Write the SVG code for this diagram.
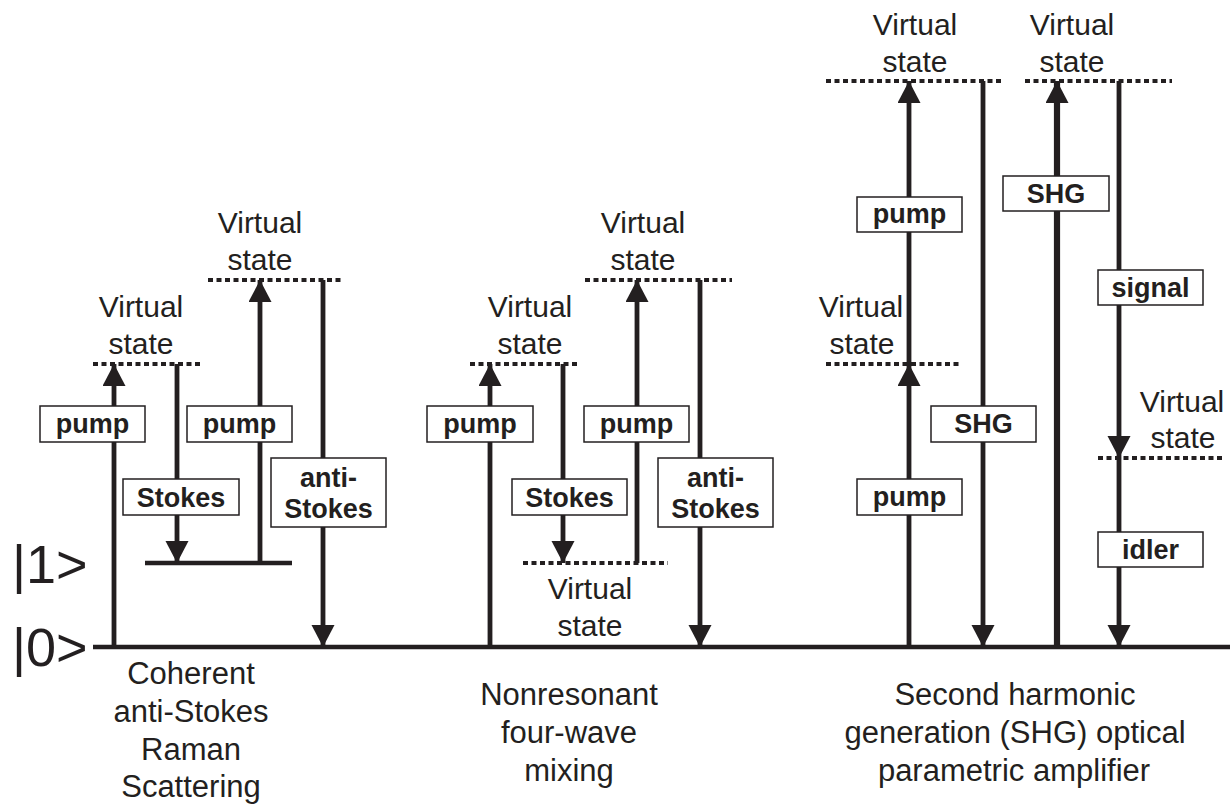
<svg xmlns="http://www.w3.org/2000/svg" width="1230" height="804" viewBox="0 0 1230 804">
<style>
.txt{font-family:"Liberation Sans",Arial,sans-serif;font-size:30px;fill:#231f20;text-anchor:middle}
.cap{font-family:"Liberation Sans",Arial,sans-serif;font-size:31px;fill:#231f20;text-anchor:middle}
.big{font-family:"Liberation Sans",Arial,sans-serif;font-size:54px;fill:#231f20}
.lbl{font-family:"Liberation Sans",Arial,sans-serif;font-size:27px;font-weight:bold;fill:#231f20;text-anchor:middle}
.box{fill:#ffffff;stroke:#231f20;stroke-width:1.5}
.lvl{stroke:#231f20;stroke-width:4.5;fill:none}
.vs{stroke:#231f20;stroke-width:4;stroke-dasharray:5 3.5;fill:none}
.arr{stroke:#231f20;stroke-width:4.8;fill:none;marker-end:url(#ah)}
.arrT{stroke:#231f20;stroke-width:6.2;fill:none;marker-end:url(#ah)}
</style>
<defs>
<marker id="ah" markerUnits="userSpaceOnUse" markerWidth="24" markerHeight="24" refX="22" refY="11.5" orient="auto">
<path d="M0,0 L22,11.5 L0,23 Z" fill="#231f20"/>
</marker>
</defs>
<rect width="1230" height="804" fill="#ffffff"/>

<g id="levels">
<text class="big" x="12" y="583">|1&gt;</text>
<text class="big" x="12" y="666">|0&gt;</text>
<line class="lvl" x1="93" y1="647" x2="1230" y2="647"/>
<line class="lvl" x1="145" y1="563" x2="292" y2="563"/>
</g>

<g id="virtual-states">
<g id="vs-cars-1"><line class="vs" x1="93" y1="364" x2="203" y2="364"/><text class="txt" x="141" y="317">Virtual</text><text class="txt" x="141" y="354">state</text></g>
<g id="vs-cars-2"><line class="vs" x1="208" y1="280" x2="343" y2="280"/><text class="txt" x="260" y="233">Virtual</text><text class="txt" x="260" y="270">state</text></g>
<g id="vs-nr-1"><line class="vs" x1="470" y1="364" x2="580" y2="364"/><text class="txt" x="530" y="317">Virtual</text><text class="txt" x="530" y="354">state</text></g>
<g id="vs-nr-2"><line class="vs" x1="585" y1="280" x2="732" y2="280"/><text class="txt" x="643" y="233">Virtual</text><text class="txt" x="643" y="270">state</text></g>
<g id="vs-nr-3"><line class="vs" x1="523" y1="563" x2="668" y2="563"/><text class="txt" x="590" y="599">Virtual</text><text class="txt" x="590" y="636">state</text></g>
<g id="vs-shg-1"><line class="vs" x1="826" y1="81" x2="1003" y2="81"/><text class="txt" x="915" y="35">Virtual</text><text class="txt" x="915" y="72">state</text></g>
<g id="vs-shg-2"><line class="vs" x1="1025" y1="81" x2="1172" y2="81"/><text class="txt" x="1072" y="35">Virtual</text><text class="txt" x="1072" y="72">state</text></g>
<g id="vs-shg-3"><line class="vs" x1="826" y1="364" x2="962" y2="364"/><text class="txt" x="861" y="317">Virtual</text><text class="txt" x="862" y="354">state</text></g>
<g id="vs-shg-4"><line class="vs" x1="1098" y1="458" x2="1223" y2="458"/><text class="txt" x="1182" y="412">Virtual</text><text class="txt" x="1183" y="448">state</text></g>
</g>

<g id="connectors">
<line class="arr" x1="114" y1="647" x2="114" y2="364"/>
<line class="arr" x1="177" y1="364" x2="177" y2="563"/>
<line class="arr" x1="260" y1="563" x2="260" y2="280"/>
<line class="arr" x1="323" y1="280" x2="323" y2="647"/>
<line class="arr" x1="490" y1="647" x2="490" y2="364"/>
<line class="arr" x1="563" y1="364" x2="563" y2="563"/>
<line class="arr" x1="637" y1="563" x2="637" y2="280"/>
<line class="arr" x1="700" y1="280" x2="700" y2="647"/>
<line class="arr" x1="909" y1="647" x2="909" y2="364"/>
<line class="arr" x1="909" y1="364" x2="909" y2="81"/>
<line class="arr" x1="983" y1="81" x2="983" y2="647"/>
<line class="arrT" x1="1057" y1="647" x2="1057" y2="81"/>
<line class="arr" x1="1119" y1="81" x2="1119" y2="458"/>
<line class="arr" x1="1119" y1="458" x2="1119" y2="647"/>
</g>

<g id="lbl-cars-pump1"><rect class="box" x="40" y="406" width="105" height="36"/><text class="lbl" x="92.5" y="433">pump</text></g>
<g id="lbl-cars-stokes"><rect class="box" x="123" y="479" width="116" height="36"/><text class="lbl" x="181" y="507">Stokes</text></g>
<g id="lbl-cars-pump2"><rect class="box" x="187" y="406" width="105" height="36"/><text class="lbl" x="239.5" y="433">pump</text></g>
<g id="lbl-cars-as"><rect class="box" x="271" y="458" width="115" height="69"/><text class="lbl" x="328.5" y="487">anti-</text><text class="lbl" x="328.5" y="518">Stokes</text></g>

<g id="lbl-nr-pump1"><rect class="box" x="427" y="406" width="106" height="36"/><text class="lbl" x="480" y="433">pump</text></g>
<g id="lbl-nr-stokes"><rect class="box" x="512" y="479" width="115" height="36"/><text class="lbl" x="569.5" y="507">Stokes</text></g>
<g id="lbl-nr-pump2"><rect class="box" x="584" y="406" width="105" height="36"/><text class="lbl" x="636.5" y="433">pump</text></g>
<g id="lbl-nr-as"><rect class="box" x="658" y="458" width="115" height="69"/><text class="lbl" x="715.5" y="487">anti-</text><text class="lbl" x="715.5" y="518">Stokes</text></g>

<g id="lbl-shg-pump-up"><rect class="box" x="857" y="197" width="105" height="35"/><text class="lbl" x="909.5" y="223">pump</text></g>
<g id="lbl-shg-pump-low"><rect class="box" x="857" y="479" width="105" height="36"/><text class="lbl" x="909.5" y="506">pump</text></g>
<g id="lbl-shg-down"><rect class="box" x="931" y="406" width="105" height="36"/><text class="lbl" x="983.5" y="433">SHG</text></g>
<g id="lbl-shg-up"><rect class="box" x="1003" y="176" width="106" height="35"/><text class="lbl" x="1056" y="203">SHG</text></g>
<g id="lbl-signal"><rect class="box" x="1098" y="270" width="105" height="35"/><text class="lbl" x="1150.5" y="297">signal</text></g>
<g id="lbl-idler"><rect class="box" x="1098" y="532" width="105" height="35"/><text class="lbl" x="1150.5" y="559">idler</text></g>

<g id="captions">
<text class="cap" x="191" y="684">Coherent</text>
<text class="cap" x="191" y="722">anti-Stokes</text>
<text class="cap" x="191" y="760">Raman</text>
<text class="cap" x="191" y="797">Scattering</text>
<text class="cap" x="569" y="705">Nonresonant</text>
<text class="cap" x="569" y="743">four-wave</text>
<text class="cap" x="569" y="781">mixing</text>
<text class="cap" x="1015" y="705">Second harmonic</text>
<text class="cap" x="1015" y="743">generation (SHG) optical</text>
<text class="cap" x="1014" y="781">parametric amplifier</text>
</g>
</svg>
